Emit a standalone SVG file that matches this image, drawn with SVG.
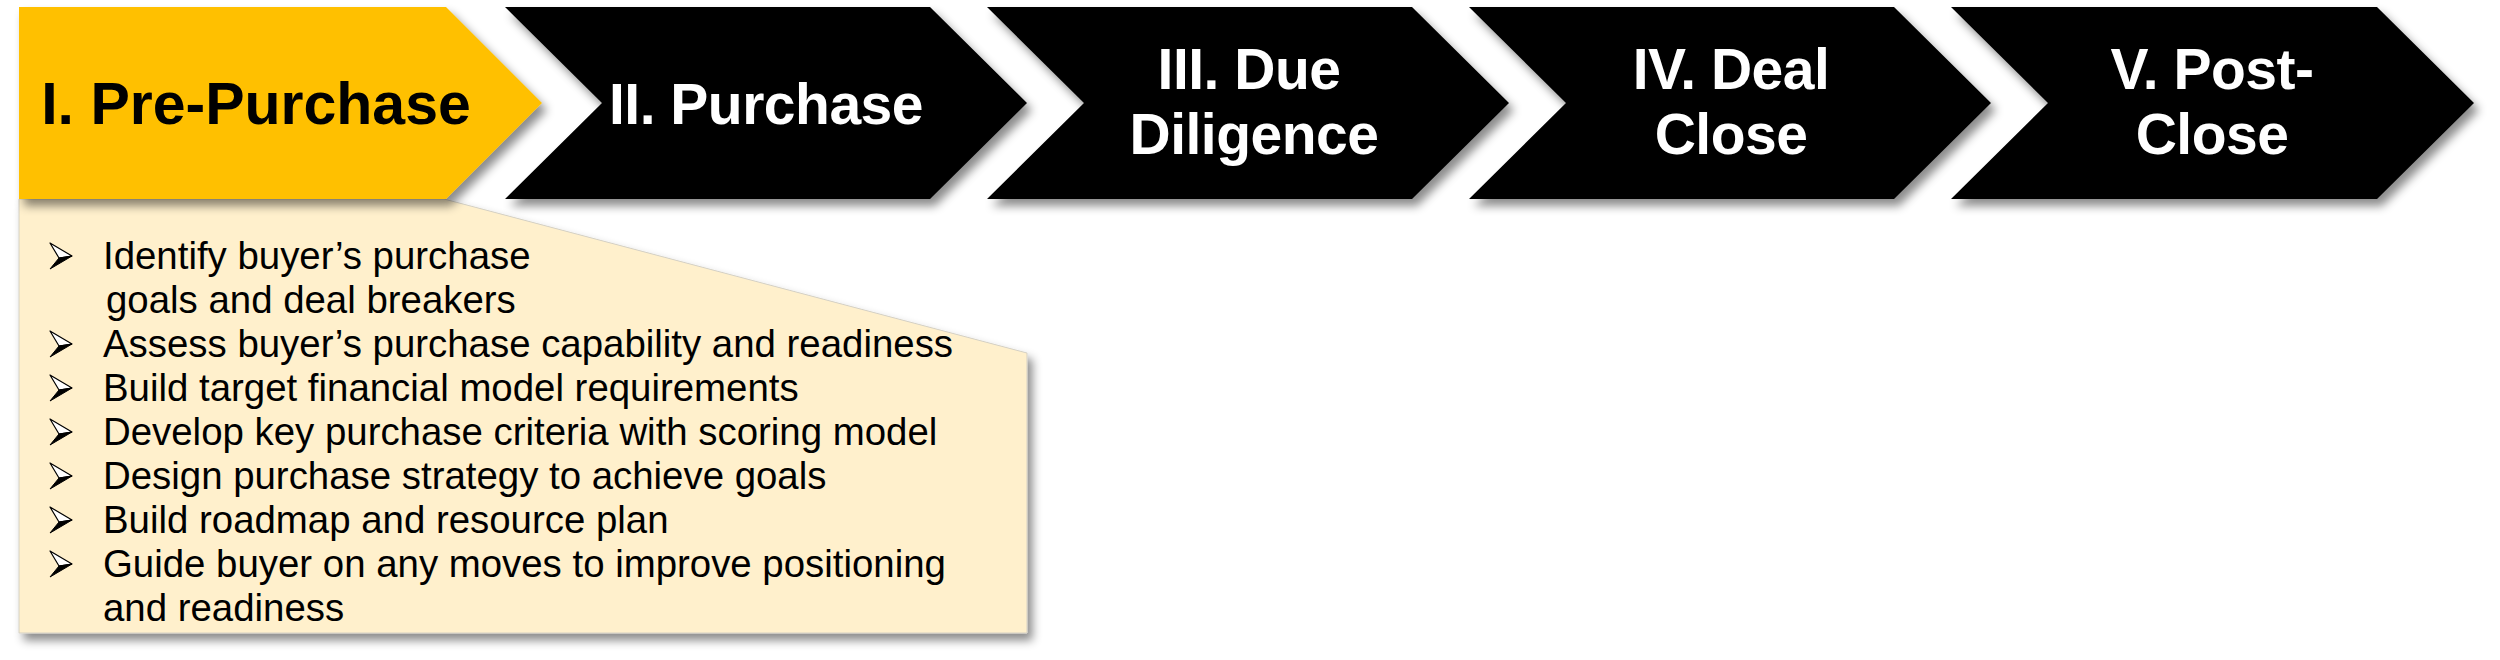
<svg xmlns="http://www.w3.org/2000/svg" width="2500" height="660" viewBox="0 0 2500 660">
  <defs>
    <filter id="shadow" x="-10%" y="-20%" width="130%" height="150%">
      <feDropShadow dx="5" dy="7" stdDeviation="5" flood-color="#000" flood-opacity="0.45"/>
    </filter>
    <g id="bullet">
      <polygon points="0,0 22,13 9,15" fill="#fff" stroke="#000" stroke-width="1.2" stroke-linejoin="round"/>
      <polygon points="9,15 22,13 0,26" fill="#000" stroke="#000" stroke-width="1" stroke-linejoin="round"/>
    </g>
    <style>
      .chev { fill: #000; filter: url(#shadow); }
      .chev-y { fill: #FFC000; filter: url(#shadow); }
      .hdr { font-family: "Liberation Sans", Arial, sans-serif; font-weight: bold; font-size: 57px; text-anchor: middle; letter-spacing: -0.5px; }
      .hdr-w { fill: #fff; }
      .hdr-b { fill: #000; font-size: 59px; letter-spacing: 0; }
      .body { font-family: "Liberation Sans", Arial, sans-serif; font-size: 38.4px; fill: #000; }
      .panel { fill: #FFF0CC; stroke: #d4d0c4; stroke-width: 1; filter: url(#shadow); }
    </style>
  </defs>
  <rect width="2500" height="660" fill="#fff"/>

  <g id="detail-panel">
    <polygon class="panel" points="19,199 444,199 1027,353 1027,633 19,633"/>
    <use href="#bullet" x="50" y="243"/>
    <use href="#bullet" x="50" y="331"/>
    <use href="#bullet" x="50" y="375"/>
    <use href="#bullet" x="50" y="419"/>
    <use href="#bullet" x="50" y="463"/>
    <use href="#bullet" x="50" y="507"/>
    <use href="#bullet" x="50" y="551"/>
    <text class="body" x="103" y="269">Identify buyer’s purchase</text>
    <text class="body" x="106" y="313">goals and deal breakers</text>
    <text class="body" x="103" y="357">Assess buyer’s purchase capability and readiness</text>
    <text class="body" x="103" y="401">Build target financial model requirements</text>
    <text class="body" x="103" y="445">Develop key purchase criteria with scoring model</text>
    <text class="body" x="103" y="489">Design purchase strategy to achieve goals</text>
    <text class="body" x="103" y="533">Build roadmap and resource plan</text>
    <text class="body" x="103" y="577">Guide buyer on any moves to improve positioning</text>
    <text class="body" x="103" y="621">and readiness</text>
  </g>

  <g id="stage-1">
    <polygon class="chev-y" points="19,7 446,7 542,103 446,199 19,199"/>
    <text class="hdr hdr-b" x="256" y="124">I. Pre-Purchase</text>
  </g>

  <g id="stage-2">
    <polygon class="chev" points="505,7 930,7 1027,103 930,199 505,199 602,103"/>
    <text class="hdr hdr-w" x="766" y="124">II. Purchase</text>
  </g>

  <g id="stage-3">
    <polygon class="chev" points="987,7 1412,7 1509,103 1412,199 987,199 1084,103"/>
    <text class="hdr hdr-w" x="1249" y="89">III. Due</text>
    <text class="hdr hdr-w" x="1254" y="154">Diligence</text>
  </g>

  <g id="stage-4">
    <polygon class="chev" points="1469,7 1894,7 1991,103 1894,199 1469,199 1566,103"/>
    <text class="hdr hdr-w" x="1731" y="89">IV. Deal</text>
    <text class="hdr hdr-w" x="1731" y="154">Close</text>
  </g>

  <g id="stage-5">
    <polygon class="chev" points="1951,7 2377,7 2474,103 2377,199 1951,199 2048,103"/>
    <text class="hdr hdr-w" x="2212" y="89">V. Post-</text>
    <text class="hdr hdr-w" x="2212" y="154">Close</text>
  </g>

  <g id="connectors"/>
</svg>
